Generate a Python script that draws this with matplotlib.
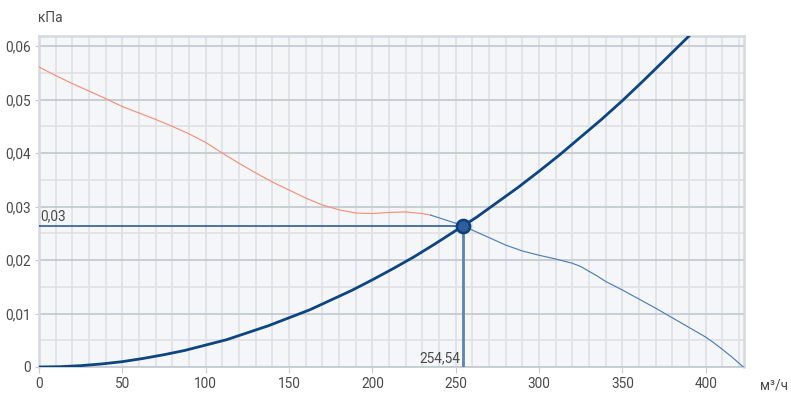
import numpy as np
import matplotlib.pyplot as plt

# fan curve (pressure vs airflow)
fan_x = [0, 10, 20, 30, 40, 50, 60, 70, 80, 90, 100, 110, 120, 130, 140, 150,
         160, 170, 180, 190, 200, 210, 220, 230, 235]
fan_y = [0.0561, 0.0545, 0.0530, 0.0516, 0.0502, 0.0487, 0.0475, 0.0463, 0.0450,
         0.0436, 0.0420, 0.0400, 0.0381, 0.0363, 0.0346, 0.0331, 0.0316, 0.0303,
         0.0294, 0.0288, 0.0287, 0.0289, 0.0290, 0.0287, 0.0284]
fan2_x = [235, 240, 245, 254.54, 260, 270, 280, 290, 300, 310, 320, 325, 330,
          335, 340, 350, 360, 370, 380, 390, 400, 405, 410, 416, 422.6]
fan2_y = [0.0284, 0.0279, 0.0274, 0.0264, 0.0256, 0.0242, 0.0228, 0.0217, 0.0209,
          0.0202, 0.0194, 0.0188, 0.0179, 0.0170, 0.0160, 0.0144, 0.0127, 0.0110,
          0.0092, 0.0074, 0.0056, 0.0045, 0.0033, 0.0018, 0.0]

# system (network) curve
sys_x = [0, 12.5, 25, 37.5, 50, 62.5, 75, 87.5, 100, 112.5, 125, 137.5, 150,
         162.5, 175, 187.5, 200, 212.5, 225, 237.5, 250, 254.54, 262.5, 275,
         287.5, 300, 312.5, 325, 337.5, 350, 362.5, 375, 390]
sys_y = [0, 0.00006, 0.00025, 0.00057, 0.0010, 0.0016, 0.0023, 0.0031, 0.0041,
         0.0051, 0.0064, 0.0077, 0.0092, 0.0107, 0.0125, 0.0143, 0.0163, 0.0184,
         0.0206, 0.0230, 0.0255, 0.0264, 0.0280, 0.0308, 0.0336, 0.0366,
         0.0397, 0.0430, 0.0463, 0.0498, 0.0535, 0.0573, 0.0619]

# operating point
op_x = 254.54
op_y = 0.0264
op_x_label = "254,54"
op_y_label = "0,03"

x_ticks = [0, 50, 100, 150, 200, 250, 300, 350, 400]
y_ticks = [0, 0.01, 0.02, 0.03, 0.04, 0.05, 0.06]
y_tick_labels = ["0", "0,01", "0,02", "0,03", "0,04", "0,05", "0,06"]

plt.rcParams['font.family'] = ['Roboto', 'DejaVu Sans']

fig = plt.figure(figsize=(7.91, 4.01), dpi=100)
ax = fig.add_axes([39 / 791, 34 / 401, 705 / 791, 331 / 401])
ax.set_facecolor('#f5f6f8')

ax.set_xlim(0, 423)
ax.set_ylim(0, 0.0619)

# grid
ax.set_xticks(np.arange(0, 423, 10), minor=True)
ax.set_yticks(np.arange(0, 0.062, 0.005), minor=True)
ax.grid(which='minor', axis='both', color='#dfe1e5', lw=1.2)
ax.grid(which='major', axis='x', color='#dcdee2', lw=1.2)
ax.grid(which='major', axis='y', color='#c6cbd3', lw=1.3)
ax.set_axisbelow(True)

ax.set_xticks(x_ticks)
ax.set_xticklabels([str(v) for v in x_ticks])
ax.set_yticks(y_ticks)
ax.set_yticklabels(y_tick_labels)
ax.tick_params(which='minor', length=0)
ax.tick_params(which='major', length=4, color='#c6cbd3', labelsize=9.8,
               labelcolor='#4a4a4a', pad=3)
ax.tick_params(axis='y', length=3)

for s in ['left', 'top', 'right']:
    ax.spines[s].set_color('#d5d8dd')
    ax.spines[s].set_linewidth(1.8)
ax.spines['bottom'].set_color('#c6cbd3')
ax.spines['bottom'].set_linewidth(1.3)

# curves
ax.plot(fan_x, fan_y, color='#f2917d', lw=0.85, zorder=3)
ax.plot(fan2_x, fan2_y, color='#4f7fb5', lw=0.85, zorder=3)
ax.plot(sys_x, sys_y, color='#0c4582', lw=2.0, zorder=4)

# operating point guides
ax.plot([0, op_x], [op_y, op_y], color='#1c4f8a', lw=1.1, zorder=3)
ax.plot([op_x, op_x], [0, op_y], color='#5d83ad', lw=2.0, zorder=3)
ax.plot([op_x], [op_y], marker='o', ms=9.5, mfc='#2f5f98', mec='#0d3f7a',
        mew=1.8, zorder=5)

ax.text(1, op_y + 0.0004, op_y_label, fontsize=9.8, color='#4a4a4a',
        ha='left', va='bottom')
ax.text(op_x - 1.5, 0.0003, op_x_label, fontsize=9.8, color='#4a4a4a',
        ha='right', va='bottom')

# axis units
fig.text(38 / 791, 1 - 18 / 401, "кПа", fontsize=9.8, color='#4a4a4a',
         ha='left', va='center')
fig.text(760 / 791, 1 - 385 / 401, "м³/ч", fontsize=9.8, color='#4a4a4a',
         ha='left', va='center')

fig.savefig('out.png', dpi=100)
